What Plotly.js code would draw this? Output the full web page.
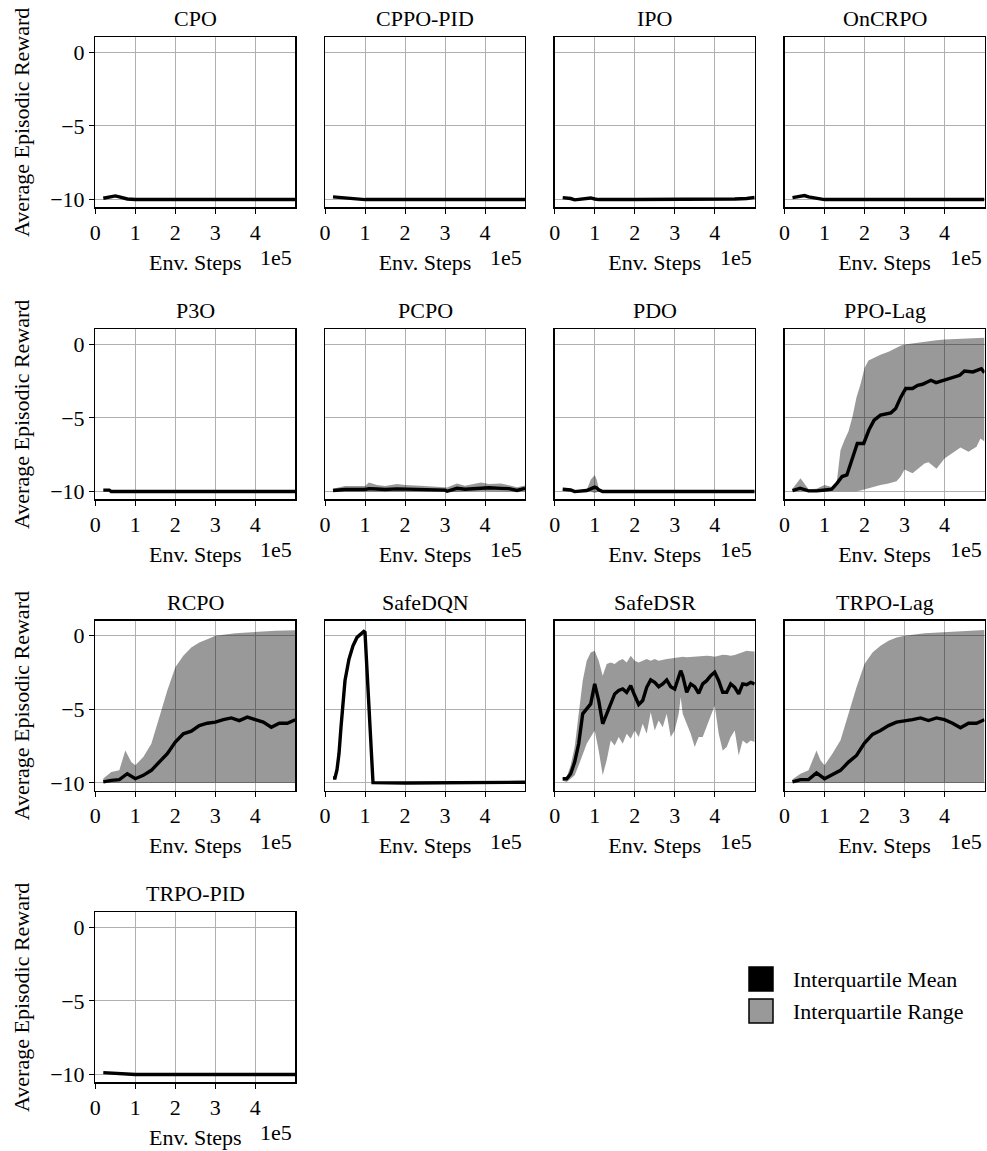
<!DOCTYPE html>
<html>
<head>
<meta charset="utf-8">
<script src="https://cdn.plot.ly/plotly-3.0.1.min.js"></script>
<style>html,body{margin:0;padding:0;background:#fff;}#chart{width:987px;height:1151px;}</style>
</head>
<body>
<div id="chart"></div>
<script>
// ---------------- DATA ----------------
const algorithms = ['CPO','CPPO-PID','IPO','OnCRPO','P3O','PCPO','PDO','PPO-Lag','RCPO','SafeDQN','SafeDSR','TRPO-Lag','TRPO-PID'];
const xTickValues = [0, 100000, 200000, 300000, 400000];
const xTickLabels = ['0','1','2','3','4'];
const yTickValues = [-10, -5, 0];
const yTickLabels = ['\u221210','\u22125','0'];

const cpoX = [20000,40000,50000,60000,70000,80000,100000,200000,300000,400000,500000];
const cpoMean = [-9.91,-9.82,-9.75,-9.82,-9.89,-9.96,-10,-10,-10,-10,-10];

const cppoPidX = [20000,50000,80000,100000,300000,500000];
const cppoPidMean = [-9.82,-9.87,-9.96,-10,-10,-10];

const ipoX = [20000,40000,50000,70000,90000,100000,110000,200000,300000,400000,420000,450000,480000,495000,500000];
const ipoMean = [-9.87,-9.93,-10.02,-9.93,-9.89,-9.96,-10,-10,-10,-10,-9.96,-9.96,-9.93,-9.87,-9.85];

const oncrpoX = [20000,40000,50000,60000,80000,100000,300000,500000];
const oncrpoMean = [-9.87,-9.78,-9.73,-9.82,-9.93,-10,-10,-10];

const p3oX = [20000,35000,40000,100000,300000,500000];
const p3oMean = [-9.9,-9.9,-10,-10,-10,-10];

const pcpoX = [20000,50000,100000,110000,130000,150000,180000,200000,250000,300000,305000,330000,350000,390000,410000,440000,460000,480000,500000];
const pcpoMean = [-9.93,-9.86,-9.86,-9.8,-9.83,-9.86,-9.82,-9.84,-9.86,-9.9,-9.98,-9.78,-9.84,-9.76,-9.74,-9.78,-9.8,-9.92,-9.78];
const pcpoUpper = [-9.8,-9.62,-9.62,-9.38,-9.56,-9.62,-9.48,-9.56,-9.62,-9.68,-9.72,-9.46,-9.6,-9.38,-9.48,-9.45,-9.6,-9.7,-9.58];
const pcpoLower = [-10,-10,-10,-9.98,-10,-10,-9.98,-10,-10,-10.02,-10.05,-10,-10,-9.98,-9.98,-10,-10,-10.02,-10];

const pdoX = [20000,40000,50000,80000,90000,100000,105000,110000,120000,130000,200000,300000,400000,500000];
const pdoMean = [-9.84,-9.89,-10,-9.93,-9.82,-9.7,-9.75,-9.88,-10,-10,-10,-10,-10,-10];
const pdoUpper = [-9.8,-9.85,-9.95,-9.9,-9.2,-8.87,-9.2,-9.77,-9.95,-10,-10,-10,-10,-10];
const pdoLower = [-9.9,-9.95,-10.02,-10,-10,-10.1,-10.05,-10,-10,-10,-10,-10,-10,-10];

const ppoLagX = [20000,39000,60000,80000,102000,118000,131000,144000,156000,169000,182000,198000,211000,224000,240000,266000,278000,291000,303000,320000,333000,345000,366000,379000,400000,421000,438000,450000,471000,492000,500000];
const ppoLagMean = [-9.93,-9.77,-9.95,-9.95,-9.89,-9.84,-9.44,-8.98,-8.87,-7.86,-6.73,-6.73,-5.82,-5.15,-4.81,-4.65,-4.36,-3.57,-3.0,-3.0,-2.78,-2.71,-2.44,-2.6,-2.44,-2.26,-2.1,-1.81,-1.87,-1.65,-1.92];
const ppoLagBandX = [20000,40000,60000,80000,100000,120000,130000,135000,140000,150000,160000,170000,180000,190000,200000,210000,220000,240000,260000,280000,290000,300000,320000,340000,350000,360000,380000,400000,420000,440000,460000,480000,490000,500000];
const ppoLagUpper = [-9.8,-9.1,-9.85,-9.8,-9.55,-9.7,-9.5,-8.3,-7.2,-6.5,-5.9,-4.9,-3.6,-2.7,-1.6,-1.1,-0.95,-0.7,-0.5,-0.2,-0.1,0.0,0.08,0.15,0.2,0.22,0.28,0.34,0.37,0.41,0.44,0.45,0.45,0.45];
const ppoLagLower = [-10,-10,-10,-10,-10,-10,-10,-10,-10,-10,-10,-10,-9.97,-9.92,-9.85,-9.75,-9.7,-9.55,-9.45,-9.3,-9.0,-8.5,-8.75,-8.3,-8.1,-8.0,-8.45,-7.75,-7.4,-7.0,-7.3,-6.95,-6.4,-6.6];

const rcpoX = [20000,40000,60000,80000,100000,120000,140000,160000,180000,200000,220000,240000,260000,280000,300000,320000,340000,360000,380000,400000,420000,440000,460000,480000,500000];
const rcpoMean = [-9.93,-9.82,-9.77,-9.37,-9.71,-9.48,-9.14,-8.58,-8.01,-7.22,-6.66,-6.48,-6.1,-5.94,-5.87,-5.7,-5.58,-5.76,-5.53,-5.7,-5.87,-6.21,-5.94,-5.94,-5.7];
const rcpoBandX = [20000,40000,60000,75000,90000,100000,120000,140000,160000,180000,200000,220000,240000,260000,280000,300000,350000,400000,450000,500000];
const rcpoUpper = [-9.7,-9.26,-9.14,-7.79,-8.58,-8.8,-8.24,-7.34,-5.53,-3.72,-2.14,-1.35,-0.79,-0.45,-0.23,0.0,0.18,0.27,0.34,0.38];
const rcpoLower = [-10,-10,-10,-10,-10,-10,-10,-10,-10,-10,-10,-10,-10,-10,-10,-10,-10,-10,-10,-10];

const safeDqnX = [20000,25000,30000,35000,40000,45000,50000,60000,70000,80000,90000,97000,100000,120000,200000,300000,400000,490000,500000];
const safeDqnMean = [-9.66,-9.66,-9.1,-8.0,-6.2,-4.4,-3.04,-1.58,-0.68,-0.11,0.16,0.29,0.23,-9.98,-10,-10,-10,-9.97,-9.95];

const safeDsrX = [20000,30000,40000,50000,60000,70000,80000,90000,100000,110000,120000,130000,140000,150000,160000,170000,180000,190000,200000,210000,220000,230000,240000,250000,260000,270000,280000,290000,300000,310000,315000,320000,330000,340000,350000,360000,370000,380000,390000,400000,410000,420000,430000,440000,450000,460000,470000,480000,490000,500000];
const safeDsrMean = [-9.71,-9.71,-9.37,-8.58,-7.34,-5.3,-4.97,-4.63,-3.27,-4.4,-5.98,-5.3,-4.51,-3.95,-3.72,-3.61,-3.84,-3.39,-4.06,-4.67,-4.4,-3.5,-3.0,-3.16,-3.46,-3.27,-3.0,-3.46,-3.61,-2.71,-2.37,-2.71,-3.84,-3.27,-3.46,-3.91,-3.27,-3.05,-2.71,-2.48,-3.05,-3.84,-3.84,-3.27,-3.5,-3.95,-3.27,-3.32,-3.16,-3.27];
const safeDsrUpper = [-9.6,-9.6,-8.8,-7.56,-5.3,-3.05,-1.69,-1.13,-1.02,-1.69,-2.71,-1.92,-1.81,-1.92,-1.69,-1.58,-1.81,-1.35,-1.69,-1.81,-1.69,-1.58,-1.69,-1.58,-1.69,-1.62,-1.58,-1.55,-1.51,-1.45,-1.42,-1.42,-1.45,-1.42,-1.42,-1.4,-1.38,-1.35,-1.38,-1.42,-1.35,-1.29,-1.3,-1.35,-1.3,-1.2,-1.15,-1.02,-1.05,-1.06];
const safeDsrLower = [-9.85,-9.93,-9.71,-9.48,-8.8,-8.01,-7.34,-6.88,-6.43,-7.79,-9.48,-8.46,-7.11,-7.45,-6.88,-7.34,-6.66,-7.0,-6.43,-6.88,-5.98,-6.66,-5.19,-6.43,-5.76,-6.21,-5.3,-6.88,-6.43,-5.3,-4.18,-5.3,-5.98,-6.66,-7.56,-6.88,-6.88,-6.21,-5.53,-4.74,-6.66,-7.79,-7.56,-6.88,-6.43,-8.13,-7.11,-7.34,-7.11,-7.22];

const trpoLagX = [20000,40000,60000,80000,100000,120000,140000,160000,180000,200000,220000,240000,260000,280000,300000,320000,340000,360000,380000,400000,420000,440000,460000,480000,500000];
const trpoLagMean = [-9.93,-9.77,-9.77,-9.32,-9.71,-9.41,-9.14,-8.58,-8.13,-7.29,-6.7,-6.43,-6.1,-5.87,-5.8,-5.7,-5.58,-5.76,-5.58,-5.7,-5.94,-6.25,-5.94,-5.94,-5.7];
const trpoLagBandX = [20000,40000,60000,80000,90000,100000,120000,140000,160000,180000,200000,220000,240000,260000,280000,300000,350000,400000,450000,500000];
const trpoLagUpper = [-9.75,-9.37,-9.14,-7.79,-8.46,-8.8,-8.0,-7.1,-5.3,-3.5,-1.92,-1.13,-0.68,-0.34,-0.11,0.0,0.18,0.27,0.34,0.4];
const trpoLagLower = [-10,-10,-10,-10,-10,-10,-10,-10,-10,-10,-10,-10,-10,-10,-10,-10,-10,-10,-10,-10];

const trpoPidX = [20000,80000,100000,500000];
const trpoPidMean = [-9.87,-9.93,-10,-10];

// table used to build traces: [x, mean, bandX, upper, lower]
const panels = [
  [cpoX, cpoMean, null, null, null],
  [cppoPidX, cppoPidMean, null, null, null],
  [ipoX, ipoMean, null, null, null],
  [oncrpoX, oncrpoMean, null, null, null],
  [p3oX, p3oMean, null, null, null],
  [pcpoX, pcpoMean, pcpoX, pcpoUpper, pcpoLower],
  [pdoX, pdoMean, pdoX, pdoUpper, pdoLower],
  [ppoLagX, ppoLagMean, ppoLagBandX, ppoLagUpper, ppoLagLower],
  [rcpoX, rcpoMean, rcpoBandX, rcpoUpper, rcpoLower],
  [safeDqnX, safeDqnMean, null, null, null],
  [safeDsrX, safeDsrMean, safeDsrX, safeDsrUpper, safeDsrLower],
  [trpoLagX, trpoLagMean, trpoLagBandX, trpoLagUpper, trpoLagLower],
  [trpoPidX, trpoPidMean, null, null, null]
];

// ---------------- LAYOUT ----------------
const W = 987, H = 1151;
const FONT = 'Liberation Serif';
const FS = 22;
const colLeft = [95.3, 325, 554.7, 784.5];
const rowTop = [37.3, 329.3, 620.7, 912.3];
const pw = 200, ph = 170;
const txtFont = {family: FONT, size: FS, color: '#000'};

const traces = [];
const layout = {
  width: W, height: H,
  margin: {l:0, r:0, t:0, b:0},
  paper_bgcolor: '#fff', plot_bgcolor: '#fff',
  font: txtFont,
  showlegend: false,
  hovermode: false,
  annotations: [],
  shapes: []
};

algorithms.forEach((name, i) => {
  const r = Math.floor(i / 4), c = i % 4;
  const sfx = i === 0 ? '' : String(i + 1);
  const xa = 'x' + sfx, ya = 'y' + sfx;
  const l = colLeft[c], t = rowTop[r];
  const xd = [l / W, (l + pw) / W];
  const yd = [1 - (t + ph) / H, 1 - t / H];
  const p = panels[i];

  if (p[2]) {
    traces.push({x: p[2], y: p[4], xaxis: xa, yaxis: ya, type: 'scatter', mode: 'lines',
      line: {width: 0, color: 'rgba(0,0,0,0)'}, hoverinfo: 'skip', showlegend: false});
    traces.push({x: p[2], y: p[3], xaxis: xa, yaxis: ya, type: 'scatter', mode: 'lines',
      line: {width: 0, color: 'rgba(0,0,0,0)'}, fill: 'tonexty', fillcolor: 'rgba(0,0,0,0.4)',
      name: 'Interquartile Range', showlegend: false});
  }
  traces.push({x: p[0], y: p[1], xaxis: xa, yaxis: ya, type: 'scatter', mode: 'lines',
    line: {width: 3.4, color: '#000'}, name: 'Interquartile Mean', showlegend: false});

  layout['xaxis' + sfx] = {
    domain: xd, anchor: ya, range: [0, 500000],
    tickvals: xTickValues, ticktext: xTickLabels,
    showgrid: true, gridcolor: '#b0b0b0', gridwidth: 1, zeroline: false,
    showline: true, mirror: true, linecolor: '#000', linewidth: 1.3,
    ticks: 'outside', ticklen: 5, tickwidth: 1, tickcolor: '#000',
    tickfont: txtFont,
    title: {text: 'Env. Steps', font: txtFont, standoff: 10},
    fixedrange: true
  };
  layout['yaxis' + sfx] = {
    domain: yd, anchor: xa, range: [-10.525, 1.025],
    tickvals: yTickValues, ticktext: yTickLabels,
    showticklabels: c === 0,
    showgrid: true, gridcolor: '#b0b0b0', gridwidth: 1, zeroline: false,
    showline: true, mirror: true, linecolor: '#000', linewidth: 1.3,
    ticks: c === 0 ? 'outside' : '', ticklen: 5, tickwidth: 1, tickcolor: '#000',
    tickfont: txtFont,
    title: c === 0 ? {text: 'Average Episodic Reward', font: txtFont, standoff: 14} : {text: ''},
    fixedrange: true
  };

  layout.annotations.push({
    text: name, xref: 'paper', yref: 'paper', x: (xd[0] + xd[1]) / 2, y: yd[1],
    xanchor: 'center', yanchor: 'bottom', yshift: 4, showarrow: false, font: txtFont
  });
  layout.annotations.push({
    text: '1e5', xref: 'paper', yref: 'paper', x: xd[1], y: yd[0],
    xanchor: 'right', yanchor: 'top', xshift: -1, yshift: -36, showarrow: false, font: txtFont
  });
});

// legend (drawn as patches + text)
const legendItems = ['Interquartile Mean', 'Interquartile Range'];
const legendFill = ['#000', '#999999'];
const legendTop = [967, 999];
legendItems.forEach((txt, k) => {
  const y0 = legendTop[k], y1 = legendTop[k] + 24;
  layout.shapes.push({type: 'rect', xref: 'paper', yref: 'paper',
    x0: 749 / W, x1: 773 / W, y0: 1 - y1 / H, y1: 1 - y0 / H,
    fillcolor: legendFill[k], line: {color: '#000', width: 1.5}});
  layout.annotations.push({text: txt, xref: 'paper', yref: 'paper',
    x: 791 / W, y: 1 - (y0 + 12) / H, xanchor: 'left', yanchor: 'middle', showarrow: false, font: txtFont});
});

Plotly.newPlot('chart', traces, layout, {staticPlot: true, displayModeBar: false});
</script>
</body>
</html>
